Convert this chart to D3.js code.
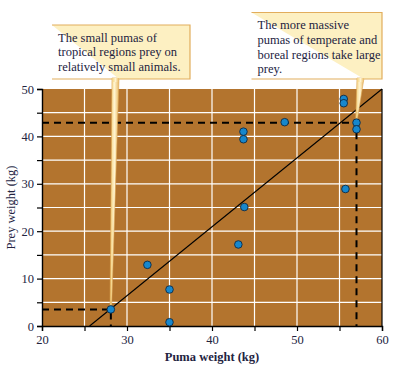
<!DOCTYPE html>
<html><head><meta charset="utf-8">
<script src="https://cdn.jsdelivr.net/npm/d3@7"></script>
<style>
body{margin:0;background:#fff;}
svg{display:block;font-family:"Liberation Serif","Times New Roman",serif;}
</style></head><body>
<svg id="c" width="393" height="368"></svg>
<script>
const pumaWeight = [28.1, 32.4, 35.0, 35.0, 43.1, 43.8, 43.7, 43.7, 48.55, 55.5, 55.5, 55.7, 57.0, 57.0];
const preyWeight = [3.5, 12.9, 7.7, 0.8, 17.2, 25.1, 41.0, 39.4, 43.0, 47.9, 47.0, 28.9, 42.9, 41.5];
const regLine = [[25.6, 0], [60, 50]];
const guides = [[57.0, 42.9], [28.1, 3.5]];
const xTicks = [20, 25, 30, 35, 40, 45, 50, 55, 60];
const xLabels = ["20", "", "30", "", "40", "", "50", "", "60"];
const yTicks = [0, 5, 10, 15, 20, 25, 30, 35, 40, 45, 50];
const yLabels = ["0", "", "10", "", "20", "", "30", "", "40", "", "50"];
const callouts = [
  {lines: ["The small pumas of", "tropical regions prey on", "relatively small animals."], target: [28.1, 3.5]},
  {lines: ["The more massive", "pumas of temperate and", "boreal regions take large", "prey."], target: [57.0, 42.9]}
];

const svg = d3.select("#c");
const L = 42, R = 382, T = 89, B = 326;
const x = d3.scaleLinear().domain([20, 60]).range([L, R]);
const y = d3.scaleLinear().domain([0, 50]).range([B, T]);
const ink = "#23233f";

svg.append("rect").attr("x", L).attr("y", T).attr("width", R - L).attr("height", B - T).attr("fill", "#b3742e");

// grid
svg.append("g").selectAll("line").data(xTicks.slice(1, -1)).join("line")
  .attr("x1", d => x(d)).attr("x2", d => x(d)).attr("y1", T).attr("y2", B)
  .attr("stroke", "#fff").attr("stroke-width", 1.2);
svg.append("g").selectAll("line").data(yTicks.slice(1, -1)).join("line")
  .attr("y1", d => y(d)).attr("y2", d => y(d)).attr("x1", L).attr("x2", R)
  .attr("stroke", "#fff").attr("stroke-width", 1.2);

// right border
svg.append("line").attr("x1", R).attr("x2", R).attr("y1", T).attr("y2", B).attr("stroke", "#000").attr("stroke-width", 1.2);

// dashed guides
guides.forEach(([gx, gy]) => {
  svg.append("path")
    .attr("d", `M${x(20)},${y(gy)}H${x(gx)}V${y(0)}`)
    .attr("fill", "none").attr("stroke", "#000").attr("stroke-width", 2)
    .attr("stroke-dasharray", "7,5");
});

// regression line
svg.append("line")
  .attr("x1", x(regLine[0][0])).attr("y1", y(regLine[0][1]))
  .attr("x2", x(regLine[1][0])).attr("y2", y(regLine[1][1]))
  .attr("stroke", "#000").attr("stroke-width", 1.1);

// axes
const xAxis = d3.axisBottom(x).tickValues(xTicks).tickFormat((d, i) => xLabels[i]).tickSize(5).tickPadding(4);
const gx = svg.append("g").attr("transform", `translate(0,${B})`).call(xAxis);
const yAxis = d3.axisLeft(y).tickValues(yTicks).tickFormat((d, i) => yLabels[i]).tickSize(5).tickPadding(3);
const gy = svg.append("g").attr("transform", `translate(${L},0)`).call(yAxis);
[gx, gy].forEach(g => {
  g.select(".domain").attr("stroke", "#000").attr("stroke-width", 1.4);
  g.selectAll(".tick line").attr("stroke", "#000").attr("stroke-width", 1.2);
  g.selectAll(".tick text").attr("fill", ink).attr("font-size", 12.5).attr("font-family", "Liberation Serif, serif");
});

svg.append("text").attr("x", (L + R) / 2).attr("y", 361).attr("text-anchor", "middle")
  .attr("font-weight", "bold").attr("font-size", 12.5).attr("fill", ink).text("Puma weight (kg)");
svg.append("text").attr("transform", `translate(15,${(T + B) / 2}) rotate(-90)`).attr("text-anchor", "middle")
  .attr("font-size", 12.5).attr("fill", ink).text("Prey weight (kg)");

// callouts
const boxes = [
  {x0: 52, x1: 190, y0: 25, y1: 79, b0: 112, b1: 119},
  {x0: 251.5, x1: 382, y0: 12.5, y1: 79, b0: 357, b1: 364}
];
const defs = svg.append("defs");
const grad = defs.append("linearGradient").attr("id", "pg").attr("x1", 0).attr("x2", 1).attr("y1", 0).attr("y2", 0);
grad.append("stop").attr("offset", "0%").attr("stop-color", "#f3cf7a");
grad.append("stop").attr("offset", "50%").attr("stop-color", "#fff4cf");
grad.append("stop").attr("offset", "100%").attr("stop-color", "#e9b863");

callouts.forEach((c, i) => {
  const b = boxes[i];
  const tx = x(c.target[0]), ty = y(c.target[1]) - 3;
  svg.append("path")
    .attr("d", `M${b.b0},${b.y1 - 1}L${tx - 0.8},${ty}L${tx + 0.8},${ty}L${b.b1},${b.y1 - 1}Z`)
    .attr("fill", "url(#pg)").attr("stroke", "#dca552").attr("stroke-width", 0.6);
  svg.append("path")
    .attr("d", `M${b.x0},${b.y0}H${b.x1}V${b.y1}H${b.b1}M${b.b0},${b.y1}H${b.x0}Z`)
    .attr("fill", "#fdf0c2").attr("stroke", "#e2ad5c").attr("stroke-width", 1.2);
  svg.append("path")
    .attr("d", `M${b.b0},${b.y1 - 1}L${b.b0 + 0.5},${b.y1 + 3}L${b.b1 - 0.5},${b.y1 + 3}L${b.b1},${b.y1 - 1}Z`)
    .attr("fill", "url(#pg)");
  const t = svg.append("text").attr("font-size", 12.5).attr("fill", ink);
  c.lines.forEach((ln, j) => {
    t.append("tspan").attr("x", b.x0 + 6).attr("y", b.y0 + 16.5 + j * 14.8).text(ln);
  });
});

// points
svg.append("g").selectAll("circle").data(pumaWeight).join("circle")
  .attr("cx", d => x(d)).attr("cy", (d, i) => y(preyWeight[i])).attr("r", 3.8)
  .attr("fill", "#1787cc").attr("stroke", "#0d2a45").attr("stroke-width", 0.9);
</script>
</body></html>
